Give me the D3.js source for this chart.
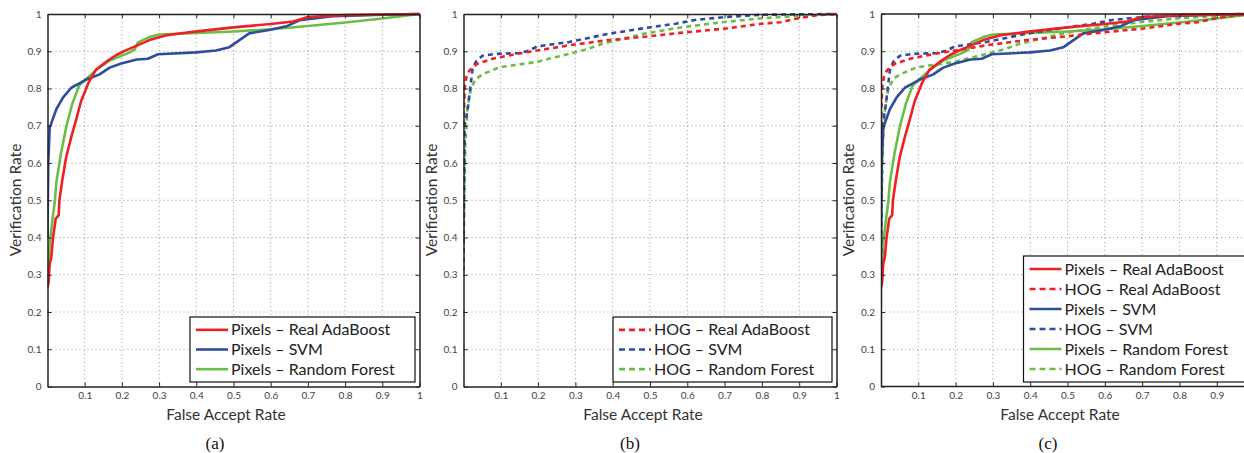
<!DOCTYPE html>
<html><head><meta charset="utf-8">
<script src="https://cdn.jsdelivr.net/npm/d3@7"></script>
<style>body{margin:0;background:#fff}svg{display:block}</style>
</head><body><svg id="c" width="1244" height="453"></svg>
<script>
// ---- data: [False Accept Rate, Verification Rate] ----
const pixAda = [[0,0.265],[0.003,0.28],[0.006,0.33],[0.01,0.345],[0.015,0.4],[0.022,0.45],[0.03,0.46],[0.032,0.5],[0.04,0.555],[0.05,0.615],[0.064,0.67],[0.078,0.72],[0.09,0.765],[0.11,0.815],[0.13,0.85],[0.158,0.872],[0.185,0.89],[0.212,0.903],[0.24,0.915],[0.274,0.93],[0.32,0.943],[0.39,0.952],[0.5,0.964],[0.6,0.973],[0.66,0.98],[0.7,0.992],[0.8,0.997],[1,1]];
const pixSvm = [[0,0.4],[0.002,0.6],[0.006,0.695],[0.024,0.745],[0.042,0.776],[0.064,0.802],[0.082,0.812],[0.1,0.822],[0.14,0.838],[0.167,0.856],[0.198,0.867],[0.24,0.878],[0.27,0.88],[0.297,0.892],[0.4,0.897],[0.453,0.902],[0.489,0.911],[0.516,0.93],[0.542,0.948],[0.596,0.957],[0.645,0.968],[0.677,0.983],[0.766,0.994],[0.9,0.998],[1,1]];
const pixRf = [[0,0.27],[0.006,0.384],[0.013,0.445],[0.02,0.5],[0.024,0.55],[0.036,0.625],[0.051,0.7],[0.067,0.76],[0.085,0.808],[0.105,0.827],[0.136,0.854],[0.167,0.875],[0.212,0.893],[0.234,0.904],[0.243,0.924],[0.274,0.938],[0.3,0.945],[0.35,0.947],[0.5,0.953],[0.6,0.959],[0.7,0.968],[0.8,0.977],[0.9,0.988],[1,1]];
const hogAda = [[0,0.7],[0.003,0.8],[0.008,0.832],[0.015,0.847],[0.026,0.858],[0.038,0.867],[0.078,0.88],[0.149,0.894],[0.198,0.902],[0.283,0.916],[0.39,0.93],[0.497,0.94],[0.587,0.95],[0.703,0.961],[0.8,0.974],[0.85,0.978],[0.895,0.988],[0.95,0.997],[1,1]];
const hogSvm = [[0,0.31],[0.003,0.7],[0.011,0.742],[0.018,0.8],[0.024,0.85],[0.033,0.872],[0.051,0.888],[0.087,0.893],[0.149,0.895],[0.176,0.902],[0.198,0.913],[0.283,0.925],[0.39,0.947],[0.497,0.964],[0.569,0.974],[0.62,0.984],[0.703,0.992],[0.8,0.998],[1,1]];
const hogRf = [[0,0.4],[0.002,0.5],[0.005,0.65],[0.011,0.75],[0.02,0.8],[0.033,0.826],[0.051,0.838],[0.096,0.857],[0.194,0.871],[0.283,0.893],[0.33,0.905],[0.372,0.92],[0.479,0.946],[0.569,0.962],[0.676,0.976],[0.792,0.988],[0.9,0.995],[1,1]];

const xTicks = [0.1,0.2,0.3,0.4,0.5,0.6,0.7,0.8,0.9,1];
const yTicks = [0,0.1,0.2,0.3,0.4,0.5,0.6,0.7,0.8,0.9,1];
const xTickLabels = ["0.1","0.2","0.3","0.4","0.5","0.6","0.7","0.8","0.9","1"];
const yTickLabels = ["0","0.1","0.2","0.3","0.4","0.5","0.6","0.7","0.8","0.9","1"];

const seriesNames = ["Pixels – Real AdaBoost","HOG – Real AdaBoost","Pixels – SVM","HOG – SVM","Pixels – Random Forest","HOG – Random Forest"];
const seriesData = [pixAda, hogAda, pixSvm, hogSvm, pixRf, hogRf];
const seriesColor = ["#ed2024","#ed2024","#2f4c9e","#2f4c9e","#6bbd46","#6bbd46"];
const seriesDashed = [false,true,false,true,false,true];
const captions = ["(a)","(b)","(c)"];

// ---- layout ----
const panels = [
  {x0:47.5, x1:419.5, xmax:1, show:[0,2,4], legend:{x:190,y:317,w:225,h:65}, cap:215, xl:226, yl:16, full:true},
  {x0:463.5, x1:836.5, xmax:1, show:[1,3,5], legend:{x:613,y:317,w:219,h:65}, cap:630, xl:643, yl:432, full:true},
  {x0:881, x1:1244, xmax:0.973, show:[0,1,2,3,4,5], legend:{x:1023.5,y:256,w:222,h:126}, cap:1048, xl:1060, yl:849, full:false}
];
const yTop = 14, yBot = 386.5;
const svg = d3.select("#c");
const font = "Lato, 'Open Sans', sans-serif";

panels.forEach((p,pi)=>{
  const x = d3.scaleLinear().domain([0,p.xmax]).range([p.x0,p.x1]);
  const y = d3.scaleLinear().domain([0,1]).range([yBot,yTop]);
  const g = svg.append("g");
  const visX = xTicks.filter(t=>t<=p.xmax+1e-9);
  // grid
  g.append("g").selectAll("line").data(visX.filter(t=>t<1)).join("line")
    .attr("x1",d=>x(d)).attr("x2",d=>x(d)).attr("y1",yTop).attr("y2",yBot)
    .attr("stroke","#999").attr("stroke-width",1).attr("stroke-dasharray","1,3");
  g.append("g").selectAll("line").data(yTicks.filter(t=>t>0&&t<1)).join("line")
    .attr("x1",p.x0).attr("x2",p.x1).attr("y1",d=>y(d)).attr("y2",d=>y(d))
    .attr("stroke","#999").attr("stroke-width",1).attr("stroke-dasharray","1,3");
  // clip
  const cid = "clip"+pi;
  svg.append("clipPath").attr("id",cid).append("rect")
    .attr("x",p.x0).attr("y",yTop-3).attr("width",p.x1-p.x0+(p.full?3:0)).attr("height",yBot-yTop+3);
  const line = d3.line().x(d=>x(d[0])).y(d=>y(d[1]));
  const lg = g.append("g").attr("clip-path",`url(#${cid})`);
  const order = p.show.slice().reverse();
  order.forEach(i=>{
    lg.append("path").datum(seriesData[i]).attr("d",line)
      .attr("fill","none").attr("stroke",seriesColor[i]).attr("stroke-width",2.6)
      .attr("stroke-linejoin","round")
      .attr("stroke-dasharray",seriesDashed[i]?"5,4":null);
  });
  // axes
  const axB = d3.axisBottom(x).tickValues(visX).tickFormat(d=>xTickLabels[xTicks.indexOf(d)]).tickSizeInner(-4).tickSizeOuter(0).tickPadding(5);
  const axL = d3.axisLeft(y).tickValues(yTicks).tickFormat((d,i)=>yTickLabels[i]).tickSizeInner(-4).tickSizeOuter(0).tickPadding(6);
  const axT = d3.axisTop(x).tickValues(visX).tickFormat("").tickSizeInner(-4).tickSizeOuter(0);
  const bA = g.append("g").attr("transform",`translate(0,${yBot})`).call(axB);
  const lA = g.append("g").attr("transform",`translate(${p.x0},0)`).call(axL);
  const tA = g.append("g").attr("transform",`translate(0,${yTop})`).call(axT);
  if(p.full){
    const axR = d3.axisRight(y).tickValues(yTicks).tickFormat("").tickSizeInner(-4).tickSizeOuter(0);
    g.append("g").attr("transform",`translate(${p.x1},0)`).call(axR);
  }
  g.selectAll(".domain").attr("stroke","#222").attr("stroke-width",1.5);
  g.selectAll(".tick line").attr("stroke","#222");
  g.selectAll(".tick text").attr("font-family",font).attr("font-size",10).attr("fill","#444");
  if(!p.full){
    bA.select(".domain").attr("d",`M${p.x0},0H${p.x1+2}`);
    tA.select(".domain").attr("d",`M${p.x0},0H${p.x1+2}`);
  }
  // labels
  g.append("text").attr("x",p.xl).attr("y",419.5).attr("text-anchor","middle")
    .attr("font-family",font).attr("font-size",15.5).attr("fill","#333").text("False Accept Rate");
  g.append("text").attr("transform",`translate(${p.yl+5},200) rotate(-90)`).attr("text-anchor","middle")
    .attr("font-family",font).attr("font-size",15.5).attr("fill","#333").text("Verification Rate");
  g.append("text").attr("x",p.cap).attr("y",449).attr("text-anchor","middle")
    .attr("font-family","'Liberation Serif', 'DejaVu Serif', serif").attr("font-size",17).attr("fill","#111").text(captions[pi]);
  // legend
  const L = p.legend;
  const leg = g.append("g");
  leg.append("rect").attr("x",L.x).attr("y",L.y).attr("width",L.w).attr("height",L.h)
    .attr("fill","#fff").attr("stroke","#111").attr("stroke-width",1.2);
  const step = (L.h-6)/p.show.length;
  p.show.forEach((i,k)=>{
    const cy = L.y+3+step*(k+0.5);
    leg.append("line").attr("x1",L.x+6).attr("x2",L.x+38).attr("y1",cy).attr("y2",cy)
      .attr("stroke",seriesColor[i]).attr("stroke-width",2.6)
      .attr("stroke-dasharray",seriesDashed[i]?"6,4":null);
    leg.append("text").attr("x",L.x+41).attr("y",cy+5.5)
      .attr("font-family",font).attr("font-size",16).attr("fill","#222").text(seriesNames[i]);
  });
});
</script></body></html>
